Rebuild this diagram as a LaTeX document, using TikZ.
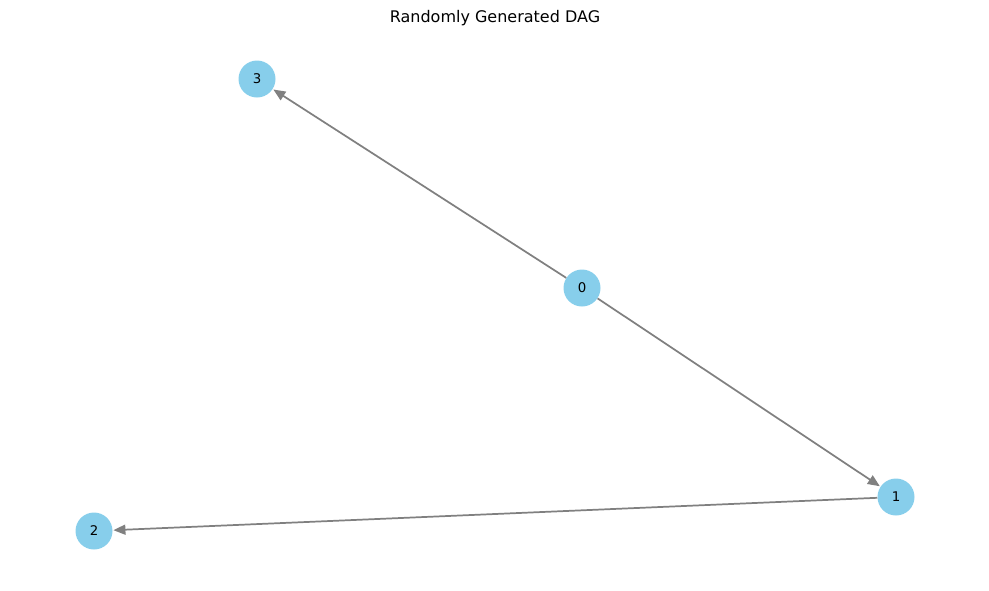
\documentclass[tikz,border=0pt]{standalone}
\usepackage{fontspec}
\setmainfont{DejaVu Sans}
\usetikzlibrary{arrows.meta}
\definecolor{skyblue}{RGB}{135,206,235}
\definecolor{edgegray}{RGB}{128,128,128}
\begin{document}
\begin{tikzpicture}[x=0.75pt,y=-0.75pt,
  vertex/.style={circle,fill=skyblue,draw=none,minimum size=27.75pt,inner sep=0pt,font=\fontsize{10pt}{12pt}\selectfont},
  edge/.style={draw=edgegray,line width=1.3pt,-{Stealth[length=9pt,width=7.5pt,inset=0pt]},shorten >=0.5pt}]
\useasboundingbox (0,0) rectangle (989,590);
\node[font=\fontsize{12pt}{14pt}\selectfont] (title) at (495,18) {Randomly Generated DAG};
\node[vertex] (n0) at (582,288) {0};
\node[vertex] (n1) at (896,497) {1};
\node[vertex] (n2) at (94,531) {2};
\node[vertex] (n3) at (257,79) {3};
\draw[edge] (n0) -- (n3);
\draw[edge] (n0) -- (n1);
\draw[edge] (n1) -- (n2);
\end{tikzpicture}
\end{document}
